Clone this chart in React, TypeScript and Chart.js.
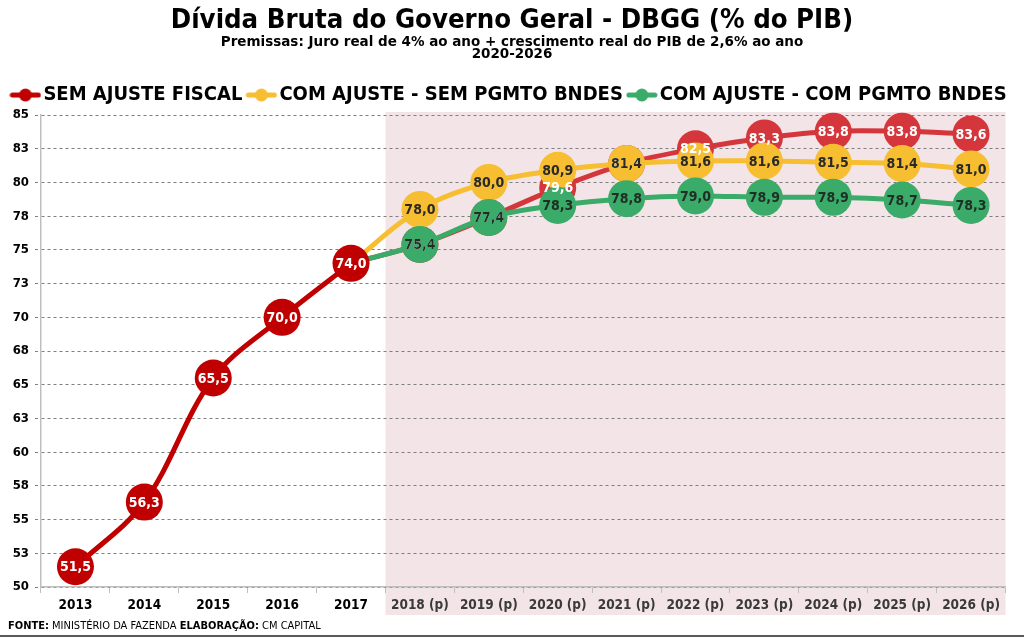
import React, { useEffect, useRef } from 'react';
import { Chart, registerables } from 'chart.js';

Chart.register(...registerables);

const FONT = '"DejaVu Sans Condensed", "DejaVu Sans", sans-serif';
const FONT_WIDE = '"DejaVu Sans", sans-serif';

const anos = ['2013', '2014', '2015', '2016', '2017', '2018 (p)', '2019 (p)', '2020 (p)', '2021 (p)', '2022 (p)', '2023 (p)', '2024 (p)', '2025 (p)', '2026 (p)'];
const semAjusteFiscal = [51.5, 56.3, 65.5, 70.0, 74.0, 75.4, 77.4, 79.6, 81.4, 82.5, 83.3, 83.8, 83.8, 83.6];
const comAjusteSemBndes = [null, null, null, null, 74.0, 78.0, 80.0, 80.9, 81.4, 81.6, 81.6, 81.5, 81.4, 81.0];
const comAjusteComBndes = [null, null, null, null, 74.0, 75.4, 77.4, 78.3, 78.8, 79.0, 78.9, 78.9, 78.7, 78.3];
const yMin = 50;
const yMax = 85;
const yStep = 2.5;
const ultimoRealizado = 4; // index of 2017

const nomes = ['SEM AJUSTE FISCAL', 'COM AJUSTE - SEM PGMTO BNDES', 'COM AJUSTE - COM PGMTO BNDES'];
const titulo = 'Dívida Bruta do Governo Geral - DBGG (% do PIB)';
const subtitulo = ['Premissas: Juro real de 4% ao ano + crescimento real do PIB de 2,6% ao ano', '2020-2026'];

const RED_HIST = '#c00000';
const RED_PROJ = '#d4363c';
const YELLOW = '#f6be30';
const GREEN = '#3aab68';
const PINK = '#f3e5e7';
const R = 18.5;

function marker(color: string): HTMLCanvasElement {
  const c = document.createElement('canvas');
  c.width = 32;
  c.height = 16;
  const ctx = c.getContext('2d')!;
  ctx.strokeStyle = color;
  ctx.lineWidth = 5;
  ctx.lineCap = 'round';
  ctx.beginPath();
  ctx.moveTo(3, 8);
  ctx.lineTo(29, 8);
  ctx.stroke();
  ctx.fillStyle = color;
  ctx.beginPath();
  ctx.arc(16, 8, 6.5, 0, Math.PI * 2);
  ctx.fill();
  return c;
}

const fmt = (v: number) => v.toFixed(1).replace('.', ',');

const fundoProjecao = {
  id: 'fundoProjecao',
  beforeDraw(chart: any) {
    const { ctx, chartArea, scales } = chart;
    const x = scales.x;
    const x0 = (x.getPixelForValue(ultimoRealizado) + x.getPixelForValue(ultimoRealizado + 1)) / 2;
    ctx.save();
    ctx.fillStyle = PINK;
    ctx.fillRect(x0, chartArea.top - 3, chartArea.right - x0, 615 - (chartArea.top - 3));
    ctx.restore();
  },
};

const etiquetas = {
  id: 'etiquetas',
  afterDatasetsDraw(chart: any) {
    const { ctx, scales } = chart;
    const series: { vals: (number | null)[]; color: string; start: number }[] = [
      { vals: semAjusteFiscal, color: '#ffffff', start: 0 },
      { vals: comAjusteSemBndes, color: '#2a2a2a', start: ultimoRealizado + 1 },
      { vals: comAjusteComBndes, color: '#1f2f25', start: ultimoRealizado + 1 },
    ];
    ctx.save();
    ctx.font = `bold 14px ${FONT}`;
    ctx.textAlign = 'center';
    ctx.textBaseline = 'middle';
    for (const s of series) {
      ctx.fillStyle = s.color;
      s.vals.forEach((v, i) => {
        if (v == null || i < s.start) return;
        ctx.fillText(fmt(v), scales.x.getPixelForValue(i), scales.y.getPixelForValue(v) + 1);
      });
    }
    ctx.restore();
  },
};

const rodape = {
  id: 'rodape',
  afterDraw(chart: any) {
    const { ctx, width } = chart;
    const partes: [string, boolean][] = [
      ['FONTE:', true],
      [' MINISTÉRIO DA FAZENDA ', false],
      ['ELABORAÇÃO:', true],
      [' CM CAPITAL', false],
    ];
    ctx.save();
    ctx.textBaseline = 'middle';
    ctx.textAlign = 'left';
    ctx.fillStyle = '#000';
    let x = 8;
    for (const [t, b] of partes) {
      ctx.font = `${b ? 'bold ' : ''}11px ${FONT}`;
      ctx.fillText(t, x, 626);
      x += ctx.measureText(t).width;
    }
    ctx.strokeStyle = '#595959';
    ctx.lineWidth = 2;
    ctx.beginPath();
    ctx.moveTo(0, 636);
    ctx.lineTo(width, 636);
    ctx.stroke();
    ctx.restore();
  },
};

export default function App() {
  const ref = useRef<HTMLCanvasElement | null>(null);

  useEffect(() => {
    document.body.style.margin = '0';
    const hist = semAjusteFiscal.map((v, i) => (i <= ultimoRealizado ? v : null));
    const proj = semAjusteFiscal.map((v, i) => (i >= ultimoRealizado ? v : null));
    const radius = (i: number) => (i === ultimoRealizado ? 0 : R);
    const common = {
      borderWidth: 5,
      pointBorderWidth: 0,
      pointHoverRadius: R,
      tension: 0.35,
      spanGaps: false,
      clip: false as any,
    };
    const chart = new Chart(ref.current!, {
      type: 'line',
      data: {
        labels: anos,
        datasets: [
          {
            label: nomes[0],
            data: hist,
            borderColor: RED_HIST,
            backgroundColor: RED_HIST,
            pointBackgroundColor: RED_HIST,
            pointRadius: R,
            order: 0,
            ...common,
          },
          {
            label: nomes[0] + ' (p)',
            data: proj,
            borderColor: RED_PROJ,
            backgroundColor: RED_PROJ,
            pointBackgroundColor: RED_PROJ,
            pointRadius: proj.map((_, i) => radius(i)),
            order: 3,
            ...common,
          },
          {
            label: nomes[1],
            data: comAjusteSemBndes,
            borderColor: YELLOW,
            backgroundColor: YELLOW,
            pointBackgroundColor: YELLOW,
            pointRadius: comAjusteSemBndes.map((_, i) => radius(i)),
            order: 2,
            ...common,
          },
          {
            label: nomes[2],
            data: comAjusteComBndes,
            borderColor: GREEN,
            backgroundColor: GREEN,
            pointBackgroundColor: GREEN,
            pointRadius: comAjusteComBndes.map((_, i) => radius(i)),
            order: 1,
            ...common,
          },
        ],
      },
      options: {
        animation: false,
        responsive: true,
        maintainAspectRatio: false,
        events: [],
        layout: { padding: { left: 0, right: 0, top: 0, bottom: 21 } },
        plugins: {
          tooltip: { enabled: false },
          title: {
            display: true,
            text: titulo,
            color: '#000',
            font: { family: FONT, size: 27.3, weight: 'bold', lineHeight: 1 },
            padding: { top: 7, bottom: 2 },
          },
          subtitle: {
            display: true,
            text: subtitulo,
            color: '#000',
            font: { family: FONT_WIDE, size: 13.5, weight: 'bold', lineHeight: 0.89 },
            padding: { top: 0, bottom: 13.7 },
          },
          legend: {
            display: true,
            position: 'top',
            labels: {
              usePointStyle: true,
              pointStyleWidth: 16,
              padding: 11,
              color: '#000',
              font: { family: FONT, size: 20, weight: 'bold' },
              generateLabels: () => [
                { text: nomes[0], pointStyle: marker(RED_HIST), fillStyle: RED_HIST, strokeStyle: RED_HIST, lineWidth: 0, hidden: false, datasetIndex: 0 },
                { text: nomes[1], pointStyle: marker(YELLOW), fillStyle: YELLOW, strokeStyle: YELLOW, lineWidth: 0, hidden: false, datasetIndex: 2 },
                { text: nomes[2], pointStyle: marker(GREEN), fillStyle: GREEN, strokeStyle: GREEN, lineWidth: 0, hidden: false, datasetIndex: 3 },
              ],
            },
          },
        },
        scales: {
          x: {
            offset: true,
            afterFit: (s: any) => { s.height = 30; },
            grid: {
              offset: true,
              drawOnChartArea: false,
              tickLength: 6,
              color: '#bfbfbf',
            },
            border: { color: '#bfbfbf', width: 1.5 },
            ticks: {
              color: anos.map((_, i) => (i <= ultimoRealizado ? '#000' : '#3a3a3a')),
              font: { family: FONT, size: 13.5, weight: 'bold' },
              padding: 4,
              maxRotation: 0,
              autoSkip: false,
            },
          },
          y: {
            min: yMin,
            max: yMax,
            afterFit: (s: any) => { s.width = 41; },
            grid: {
              color: '#7f7f7f',
              lineWidth: 1,
              tickLength: 6,
              tickBorderDash: [3, 3],
            },
            border: { color: '#bfbfbf', width: 1.5, dash: [3, 3] },
            ticks: {
              stepSize: yStep,
              color: '#000',
              font: { family: FONT, size: 13, weight: 'bold' },
              padding: 6,
              callback: (v: any) => String(Math.round(Number(v))),
            },
          },
          margemDireita: {
            type: 'linear',
            position: 'right',
            display: true,
            min: yMin,
            max: yMax,
            afterFit: (s: any) => { s.width = 6; },
            grid: { display: false, drawTicks: false },
            border: { display: false },
            ticks: { display: false },
          },
        },
      } as any,
      plugins: [fundoProjecao, etiquetas, rodape],
    });
    return () => chart.destroy();
  }, []);

  return (
    <div style={{ position: 'fixed', left: 0, top: 0, width: 1024, height: 638, background: '#fff' }}>
      <canvas ref={ref} />
    </div>
  );
}
